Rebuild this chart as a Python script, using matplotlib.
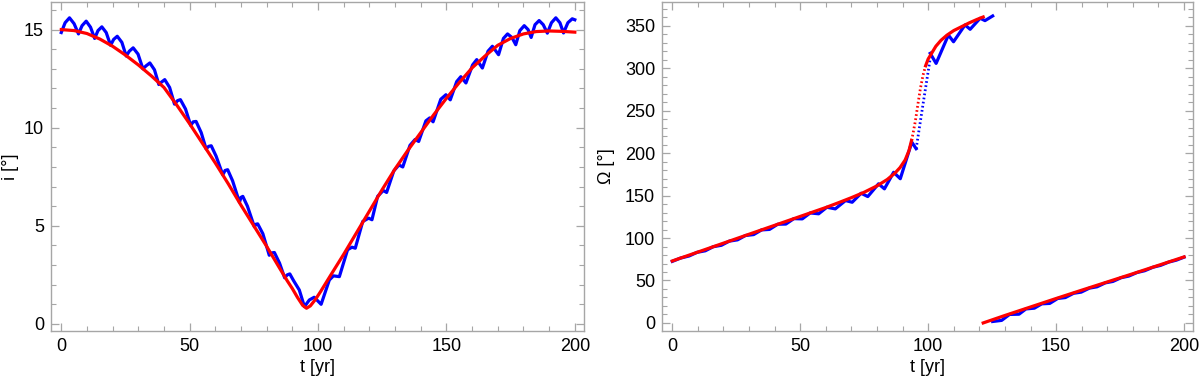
import matplotlib
matplotlib.use("Agg")
import matplotlib.pyplot as plt
from matplotlib.ticker import MultipleLocator

plt.rcParams['font.family'] = ['Liberation Sans', 'DejaVu Sans']

# --- left panel: inclination i [deg] ---
incl_red_t = [0, 5, 10, 15, 20, 25, 30, 35, 40, 45, 50, 55, 60, 65, 70, 75, 80, 85, 88, 90,
              92, 94, 95.5, 97, 99, 101, 105, 110, 115, 120, 125, 130, 135, 140, 145, 150,
              155, 160, 165, 170, 175, 180, 185, 190, 195, 200]
incl_red = [15.0, 14.95, 14.8, 14.52, 14.15, 13.7, 13.2, 12.65, 12.05, 11.15, 10.2, 9.2, 8.2,
            7.15, 6.05, 5.0, 3.95, 2.85, 2.2, 1.8, 1.35, 0.95, 0.8, 0.92, 1.25, 1.65, 2.5,
            3.55, 4.65, 5.75, 6.85, 7.9, 8.85, 9.75, 10.65, 11.5, 12.3, 13.05, 13.65, 14.2,
            14.55, 14.78, 14.9, 14.93, 14.91, 14.87]

incl_blue_t = [0, 1.5, 3.2, 5.0, 6.7, 8.1, 9.7, 11.4, 13.0, 14.3, 15.8, 17.5, 19.2, 20.4,
               21.8, 23.6, 25.3, 26.5, 28.0, 29.9, 31.8, 33.0, 34.5, 36.3, 38.0, 39.0, 40.3,
               42.2, 44.1, 45.3, 46.4, 48.4, 50.4, 51.4, 52.5, 54.5, 56.4, 57.4, 58.4, 60.3,
               62.9, 63.8, 64.8, 66.7, 69.4, 70.0, 70.7, 72.5, 75.2, 75.8, 76.5, 78.5, 81.0,
               82.0, 83.0, 85.0, 87.0, 88.0, 89.0, 90.5, 92.7, 94.7, 96.6, 98.5, 101.2, 104.4,
               106.0, 108.3, 111.5, 113.2, 114.5, 117.4, 119.7, 121.0, 123.2, 125.4, 126.7,
               129.5, 131.5, 133.0, 135.8, 137.8, 139.2, 142.0, 143.5, 144.8, 147.8, 149.8,
               151.5, 154.0, 155.6, 157.6, 160.2, 161.8, 164.0, 166.2, 167.9, 170.3, 172.2,
               173.8, 175.5, 177.0, 178.6, 180.3, 181.8, 183.0, 184.5, 186.1, 187.7, 189.3,
               190.9, 192.6, 194.2, 195.6, 197.3, 199.0, 200.0]
incl_blue = [14.85, 15.35, 15.6, 15.3, 14.78, 15.2, 15.43, 15.12, 14.55, 14.95, 15.14, 14.85,
             14.2, 14.5, 14.66, 14.35, 13.65, 13.9, 14.07, 13.75, 13.0, 13.15, 13.3, 12.95,
             12.2, 12.32, 12.45, 12.05, 11.2, 11.38, 11.43, 10.95, 10.12, 10.3, 10.32, 9.75,
             8.92, 9.05, 9.08, 8.55, 7.6, 7.82, 7.86, 7.3, 6.2, 6.45, 6.5, 6.0, 4.95, 5.08,
             5.1, 4.6, 3.5, 3.62, 3.64, 3.1, 2.35, 2.5, 2.55, 2.2, 1.73, 0.88, 1.22, 1.36,
             1.0, 2.24, 2.45, 2.41, 3.78, 3.91, 3.86, 5.22, 5.39, 5.31, 6.5, 6.8, 6.7, 7.8,
             8.1, 8.0, 9.1, 9.4, 9.3, 10.35, 10.5, 10.3, 11.45, 11.68, 11.42, 12.35, 12.6,
             12.28, 13.2, 13.47, 13.04, 13.9, 14.15, 13.72, 14.55, 14.78, 14.6, 14.23, 14.95,
             15.2, 15.0, 14.6, 15.25, 15.46, 15.25, 14.82, 15.35, 15.6, 15.35, 14.83, 15.35,
             15.55, 15.5]

# --- right panel: node longitude Omega [deg] ---
node_red_t = [0, 10, 20, 30, 40, 50, 60, 65, 70, 75, 80, 84, 87, 89, 91, 92.5, 93.5]
node_red = [73, 83.5, 94, 104.5, 115, 125.5, 136, 141.7, 147.6, 154, 161.5, 169, 176.5, 183,
            192, 203, 215]
node_red_jump_t = [93.5, 94, 95, 96, 97, 98, 99]
node_red_jump = [215, 222, 238, 258, 277, 292, 303]
node_red_top_t = [99, 100, 101.4, 103, 105, 107.3, 110, 113, 116, 119, 121.5]
node_red_top = [303, 311, 318, 326, 333, 339, 344.5, 349, 353.5, 357.5, 360.5]
node_red_wrap_t = [121.5, 130, 140, 150, 160, 170, 180, 190, 200]
node_red_wrap = [0, 8.8, 18.8, 28.8, 38.6, 48.3, 58.0, 67.9, 77.8]

node_blue_t = [0, 3.2, 6.6, 9.7, 12.9, 16.0, 19.2, 22.3, 25.5, 28.6, 31.8, 34.9, 38.0, 41.2,
               44.4, 47.5, 50.8, 53.9, 57.2, 60.4, 63.7, 67.7, 70.3, 73.8, 76.4, 80.6, 82.9,
               86.5, 89.1, 93.6, 95.3]
node_blue = [72.5, 76.4, 78.9, 83.2, 85.0, 89.8, 91.5, 96.4, 97.9, 103.0, 104.1, 109.6, 110.2,
             116.3, 116.5, 122.9, 122.6, 129.6, 128.6, 136.3, 134.4, 144.2, 142.2, 152.8,
             148.9, 163.9, 158.0, 177.5, 169.9, 213, 205.3]
node_blue_jump_t = [95.3, 98.0, 100.8]
node_blue_jump = [205.3, 258, 311.7]
node_blue_top_t = [100.8, 103.1, 107.9, 109.9, 114.4, 116.4, 120.3, 122.2, 125.2]
node_blue_top = [317.6, 305.8, 339.2, 331.3, 351.1, 346, 359, 356.2, 361.7]
node_blue_wrap_t = [125.2, 128.7, 131.8, 135.5, 138.2, 141.5, 144.4, 147.5, 150.6, 153.6,
                    156.8, 159.8, 163.0, 166.0, 169.2, 172.2, 175.4, 178.4, 181.6, 184.6,
                    187.8, 190.8, 194.0, 197.0, 200.0]
node_blue_wrap = [1.7, 3.0, 10.0, 10.3, 16.5, 17.4, 22.5, 23.0, 28.8, 29.9, 34.9, 36.3, 41.0,
                  42.6, 47.2, 48.9, 53.3, 55.2, 59.4, 61.5, 65.6, 67.8, 71.7, 74.0, 77.5]

BLUE = '#0000ff'
RED = '#ff0000'
FRAME = '#a6a6a6'
LW = 2.3
DOTS = (0, (0.6, 0.9))


def style_axes(ax, ymajor, yminor):
    for sp in ax.spines.values():
        sp.set_color(FRAME)
        sp.set_linewidth(1.0)
    ax.xaxis.set_major_locator(MultipleLocator(50))
    ax.xaxis.set_minor_locator(MultipleLocator(10))
    ax.yaxis.set_major_locator(MultipleLocator(ymajor))
    ax.yaxis.set_minor_locator(MultipleLocator(yminor))
    ax.tick_params(which='both', direction='in', top=True, right=True, color=FRAME,
                   labelsize=13, labelcolor='black', pad=5)
    ax.tick_params(which='major', length=6, width=0.9)
    ax.tick_params(which='minor', length=3.5, width=0.8)
    ax.set_xlim(-4, 203.5)
    ax.set_xlabel('t [yr]', fontsize=13, labelpad=3)


fig = plt.figure(figsize=(12, 3.86), dpi=100)

ax1 = fig.add_axes([0.0425, 0.1425, 0.444, 0.852])
ax1.plot(incl_blue_t, incl_blue, color=BLUE, lw=LW)
ax1.plot(incl_red_t, incl_red, color=RED, lw=LW)
style_axes(ax1, 5, 1)
ax1.set_ylim(-0.36, 16.4)
ax1.set_ylabel('i [°]', fontsize=13)
ax1.yaxis.set_label_coords(-0.06, 0.5)

ax2 = fig.add_axes([0.5517, 0.1425, 0.4425, 0.852])
ax2.plot(node_blue_t, node_blue, color=BLUE, lw=LW)
ax2.plot(node_blue_jump_t, node_blue_jump, color=BLUE, lw=2.0, ls=DOTS)
ax2.plot(node_blue_top_t, node_blue_top, color=BLUE, lw=LW)
ax2.plot(node_blue_wrap_t, node_blue_wrap, color=BLUE, lw=LW)
ax2.plot(node_red_t, node_red, color=RED, lw=LW)
ax2.plot(node_red_jump_t, node_red_jump, color=RED, lw=2.0, ls=DOTS)
ax2.plot(node_red_top_t, node_red_top, color=RED, lw=LW)
ax2.plot(node_red_wrap_t, node_red_wrap, color=RED, lw=LW)
style_axes(ax2, 50, 10)
ax2.set_ylim(-9.5, 378)
ax2.set_ylabel('Ω [°]', fontsize=13)
ax2.yaxis.set_label_coords(-0.088, 0.5)

fig.savefig('out.png', dpi=100)
